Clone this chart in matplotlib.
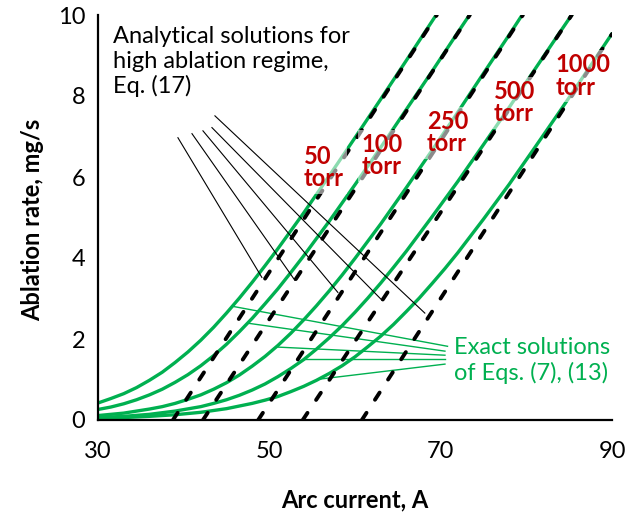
import matplotlib
matplotlib.use('Agg')
import matplotlib.pyplot as plt

plt.rcParams['font.family'] = ['Lato', 'DejaVu Sans']

# ---- data ----
pressures = ['50', '100', '250', '500', '1000']

exact_I_50 = [30, 31.5, 33, 34.5, 36, 37.5, 39, 40.5, 42, 43.5, 45, 46.5, 48, 49.5, 51, 52.5,
              54, 57, 60, 63, 66, 70]
exact_50 = [0.42, 0.53, 0.65, 0.80, 0.98, 1.18, 1.42, 1.68, 1.97, 2.29, 2.64, 3.01, 3.40, 3.81,
            4.23, 4.67, 5.11, 6.03, 6.97, 7.92, 8.88, 10.17]

exact_I_100 = [30, 31.5, 33, 34.5, 36, 37.5, 39, 40.5, 42, 43.5, 45, 46.5, 48, 49.5, 51, 52.5,
               54, 55.5, 57, 60, 63, 66, 69, 72, 74]
exact_100 = [0.26, 0.32, 0.40, 0.50, 0.62, 0.76, 0.93, 1.12, 1.34, 1.59, 1.87, 2.18, 2.51, 2.87,
             3.24, 3.64, 4.05, 4.48, 4.91, 5.81, 6.73, 7.67, 8.61, 9.57, 10.20]

exact_I_250 = [30, 33, 36, 37.5, 39, 40.5, 42, 43.5, 45, 46.5, 48, 49.5, 51, 52.5, 54, 55.5,
               57, 58.5, 60, 63, 66, 69, 72, 75, 78, 80]
exact_250 = [0.11, 0.17, 0.27, 0.33, 0.41, 0.51, 0.62, 0.76, 0.92, 1.11, 1.33, 1.57, 1.84, 2.14,
             2.47, 2.82, 3.19, 3.58, 3.99, 4.84, 5.74, 6.66, 7.60, 8.56, 9.51, 10.16]

exact_I_500 = [30, 33, 36, 39, 42, 43.5, 45, 46.5, 48, 49.5, 51, 52.5, 54, 55.5, 57, 58.5, 60,
               61.5, 63, 64.5, 66, 69, 72, 75, 78, 81, 84, 86]
exact_500 = [0.06, 0.09, 0.14, 0.22, 0.33, 0.41, 0.50, 0.61, 0.74, 0.89, 1.07, 1.27, 1.49, 1.75,
             2.03, 2.33, 2.66, 3.01, 3.38, 3.77, 4.17, 5.02, 5.89, 6.80, 7.72, 8.66, 9.60, 10.22]

exact_I_1000 = [30, 33, 36, 39, 42, 45, 48, 49.5, 51, 52.5, 54, 55.5, 57, 58.5, 60, 61.5, 63,
                64.5, 66, 67.5, 69, 70.5, 72, 75, 78, 81, 84, 87, 90]
exact_1000 = [0.04, 0.06, 0.09, 0.13, 0.19, 0.28, 0.41, 0.49, 0.58, 0.70, 0.83, 0.98, 1.15, 1.34,
              1.56, 1.81, 2.07, 2.36, 2.68, 3.01, 3.37, 3.74, 4.13, 4.96, 5.82, 6.73, 7.65, 8.59,
              9.54]

# analytical (high ablation regime) straight lines: start and end points
analytic_I_start = [38.75, 42.25, 48.7, 53.9, 60.8]
analytic_y_start = [0, 0, 0, 0, 0]
analytic_I_end = [69.55, 73.4, 79.6, 85.3, 90.0]
analytic_y_end = [10, 10, 10, 10, 9.53]

x_ticks = [30, 50, 70, 90]
y_ticks = [0, 2, 4, 6, 8, 10]

# label anchor points (left, top)
label_I = [54.0, 60.8, 68.4, 76.2, 83.4]
label_y = [6.78, 7.08, 7.65, 8.39, 9.05]

# annotation pointer lines
analytic_ptr_start_I = [39.33, 40.97, 42.25, 43.30, 43.65]
analytic_ptr_start_y = [6.97, 7.07, 7.14, 7.22, 7.51]
analytic_ptr_end_I = [49.13, 52.98, 58.0, 63.14, 68.15]
analytic_ptr_end_y = [3.52, 3.45, 3.15, 2.96, 2.64]

exact_ptr_start_I = [45.63, 47.5, 51.0, 53.92, 55.9]
exact_ptr_start_y = [2.81, 2.39, 1.80, 1.50, 1.01]
exact_ptr_end_I = [70.8, 70.5, 70.5, 70.5, 70.5]
exact_ptr_end_y = [1.82, 1.70, 1.60, 1.50, 1.38]

GREEN = '#00B050'
RED = '#C00000'

fig = plt.figure(figsize=(6.26, 5.20), dpi=100)
ax = fig.add_axes([98 / 626, 100 / 520, 514 / 626, 405 / 520])

exact_sets = [(exact_I_50, exact_50), (exact_I_100, exact_100), (exact_I_250, exact_250),
              (exact_I_500, exact_500), (exact_I_1000, exact_1000)]
for xs, ys in exact_sets:
    ax.plot(xs, ys, color=GREEN, lw=2.4, solid_capstyle='round', solid_joinstyle='round',
            zorder=2)

for a, b, c, d in zip(analytic_ptr_start_I, analytic_ptr_start_y, analytic_ptr_end_I, analytic_ptr_end_y):
    ax.plot([a, c], [b, d], color='black', lw=0.8, zorder=3)
for a, b, c, d in zip(exact_ptr_start_I, exact_ptr_start_y, exact_ptr_end_I, exact_ptr_end_y):
    ax.plot([a, c], [b, d], color=GREEN, lw=1.0, zorder=3)

for x0, y0, x1, y1 in zip(analytic_I_start, analytic_y_start, analytic_I_end, analytic_y_end):
    ax.plot([x0, x1], [y0, y1], color='black', lw=2.8, dashes=(2.2, 4.0),
            dash_capstyle='round', zorder=4)

for p, lx, ly in zip(pressures, label_I, label_y):
    ax.text(lx, ly, p + '\ntorr', color=RED, fontsize=17, fontweight='bold',
            ha='left', va='top', linespacing=0.95, zorder=6,
            bbox=dict(boxstyle='square,pad=0.15', fc='white', ec='none', alpha=0.55))

ax.text(31.75, 9.72, 'Analytical solutions for\nhigh ablation regime,\nEq. (17)',
        fontsize=17, color='black', ha='left', va='top', linespacing=1.2, zorder=6)
ax.text(71.6, 2.05, 'Exact solutions\nof Eqs. (7), (13)', fontsize=17, color=GREEN,
        ha='left', va='top', linespacing=1.2, zorder=6)

ax.set_xlim(30, 90)
ax.set_ylim(0, 10)
ax.set_xticks(x_ticks)
ax.set_yticks(y_ticks)
ax.tick_params(axis='both', length=0, labelsize=17)
ax.tick_params(axis='x', pad=15)
ax.tick_params(axis='y', pad=9)
for s in ['top', 'right']:
    ax.spines[s].set_visible(False)
for s in ['left', 'bottom']:
    ax.spines[s].set_linewidth(1.6)
    ax.spines[s].set_color('black')

fig.text(355 / 626, (520 - 500) / 520, 'Arc current, A', fontsize=17, fontweight='bold',
         ha='center', va='center')
fig.text(33 / 626, (520 - 220) / 520, 'Ablation rate, mg/s', fontsize=17, fontweight='bold',
         ha='center', va='center', rotation=90)

fig.savefig('out.png', dpi=100)
